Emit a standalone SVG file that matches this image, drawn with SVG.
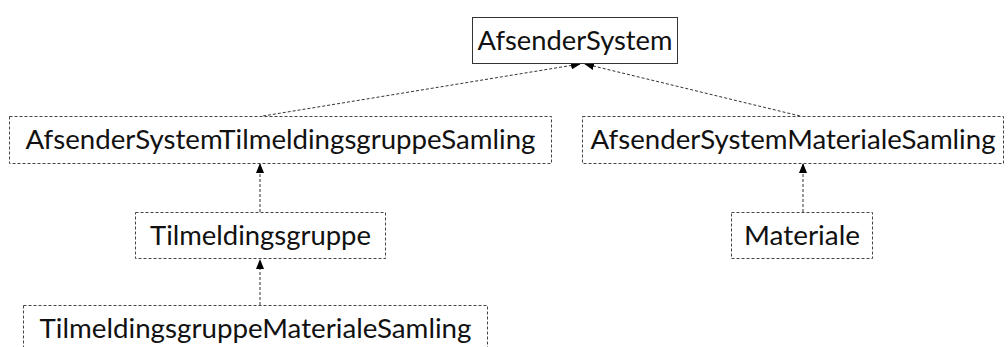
<svg xmlns="http://www.w3.org/2000/svg" width="1008" height="347" viewBox="0 0 1008 347">
<style>
.box{fill:#fff;stroke:#444;stroke-width:1;stroke-dasharray:3 2}
.solid{fill:#fff;stroke:#333;stroke-width:1}
.lbl{font-family:Lato,"Open Sans","Liberation Sans",sans-serif;font-size:26.5px;fill:#111;text-anchor:middle}
.con{fill:none;stroke:#333;stroke-width:1;stroke-dasharray:3 2}
</style>
<defs>
<marker id="ah" markerWidth="10" markerHeight="8" refX="9" refY="4" orient="auto" markerUnits="userSpaceOnUse">
<path d="M0,0 L10,4 L0,8 Z" fill="#000"/>
</marker>
</defs>
<g id="connectors">
<line class="con" x1="263" y1="116" x2="580" y2="64" marker-end="url(#ah)"/>
<line class="con" x1="800" y1="116" x2="585" y2="64" marker-end="url(#ah)"/>
<line class="con" x1="260" y1="212" x2="260" y2="164" marker-end="url(#ah)"/>
<line class="con" x1="260" y1="305" x2="260" y2="260" marker-end="url(#ah)"/>
<line class="con" x1="803" y1="212" x2="803" y2="164" marker-end="url(#ah)"/>
</g>
<g id="AfsenderSystem">
<rect class="solid" x="472.5" y="17.5" width="205" height="46"/>
<text class="lbl" x="575" y="50" textLength="195" lengthAdjust="spacingAndGlyphs">AfsenderSystem</text>
</g>
<g id="AfsenderSystemTilmeldingsgruppeSamling">
<rect class="box" x="9.5" y="116.5" width="542" height="47"/>
<text class="lbl" x="280.5" y="149" textLength="510" lengthAdjust="spacingAndGlyphs">AfsenderSystemTilmeldingsgruppeSamling</text>
</g>
<g id="AfsenderSystemMaterialeSamling">
<rect class="box" x="582.5" y="116.5" width="421" height="47"/>
<text class="lbl" x="793" y="149" textLength="405" lengthAdjust="spacingAndGlyphs">AfsenderSystemMaterialeSamling</text>
</g>
<g id="Tilmeldingsgruppe">
<rect class="box" x="135.5" y="212.5" width="250" height="46"/>
<text class="lbl" x="260.5" y="245" textLength="221" lengthAdjust="spacingAndGlyphs">Tilmeldingsgruppe</text>
</g>
<g id="Materiale">
<rect class="box" x="731.5" y="212.5" width="141" height="46"/>
<text class="lbl" x="802" y="245" textLength="116" lengthAdjust="spacingAndGlyphs">Materiale</text>
</g>
<g id="TilmeldingsgruppeMaterialeSamling">
<rect class="box" x="23.5" y="305.5" width="464" height="60"/>
<text class="lbl" x="255.5" y="338" textLength="432" lengthAdjust="spacingAndGlyphs">TilmeldingsgruppeMaterialeSamling</text>
</g>
</svg>
